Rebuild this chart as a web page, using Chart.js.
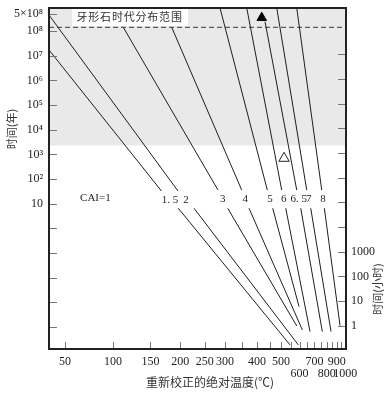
<!DOCTYPE html>
<html>
<head>
<meta charset="utf-8">
<script src="https://cdn.jsdelivr.net/npm/chart.js@4.4.0/dist/chart.umd.min.js"></script>
<style>
html, body { margin: 0; padding: 0; background: #fff; }
#wrap { width: 388px; height: 394px; }
</style>
</head>
<body>
<div id="wrap"><canvas id="caiChart"></canvas></div>
<script>
// CAI isolines: temperature in degC, time in years (gap where the label sits)
const caiLabels   = ['1. 5', '2', '3', '4', '5', '6', '6. 5', '7', '8'];
const upperStartT = [36, 36, 112.5, 184.5, 286.8, 364.4, 430.6, 480.4, 583.2];
const upperStartY = [1.72e7, 4.5e8, 1.43e8, 1.43e8, 8.7e8, 8.7e8, 2.4e8, 8.7e8, 8.7e8];
const upperEndT   = [167.3, 195.8, 281.7, 348.3, 439.9, 503.7, 583.2, 645.5, 757.5];
const upperEndY   = [33, 33, 36, 36, 36, 36, 36, 36, 36];
const lowerStartT = [196.3, 226.9, 307.2, 372.0, 462.6, 523.5, 607.1, 673.0, 779.7];
const lowerStartY = [6.6, 6.6, 6.6, 6.6, 6.6, 6.6, 6.6, 6.6, 6.6];
const lowerEndT   = [545.9, 592.6, 583.2, 617.1, 596.8, 668.0, 762.5, 841.3, 936.2];
const lowerEndY   = [1.9e-5, 1.9e-5, 1.12e-4, 7.7e-5, 6.8e-4, 6.6e-5, 6.6e-5, 6.6e-5, 1.15e-4];

// sample markers
const filledTriT = [417.7];
const filledTriY = [3.5e8];
const openTriT = [515];
const openTriY = [700];

// conodont age band and its dashed upper line
const ageBandBottom = 2300;
const ageLineY = 1.43e8;

// axis ranges and ticks
const tempMin = 36, tempMax = 1008;
const yearMin = 1.3e-5, yearMax = 8.67e8;
const hoursPerYear = 8766;
const tempTicks = [50, 100, 150, 200, 250, 300, 350, 400, 450, 500, 550, 600, 650, 700, 750, 800, 850, 900, 950, 1000];
const tempTickText = ['50', '100', '150', '200', '250', '300', '', '400', '', '500', '', ['', '600'], '', '700', '', ['', '800'], '', '900', '', ['', '1000']];
const yearTicks = [1e-4, 1e-3, 1e-2, 1e-1, 1, 10, 1e2, 1e3, 1e4, 1e5, 1e6, 1e7, 1e8, 5e8];
const yearTickText = ['', '', '', '', '', '10', '10²', '10³', '10⁴', '10⁵', '10⁶', '10⁷', '10⁸', '5×10⁸'];
const hourTicks = [1, 10, 1e2, 1e3, 1e4, 1e5, 1e6, 1e7, 1e8, 1e9, 1e10, 1e11];
const hourTickText = ['1', '10', '100', '1000', '', '', '', '', '', '', '', ''];

// x axis runs on reciprocal temperature
function toU(t) {
    return 1000 / (t + 298.7);
}

const serif = "'Liberation Serif', 'DejaVu Serif', serif";
const cjk = "'Noto Sans CJK SC', sans-serif";
const ink = '#1e1e1e';

// keep the plot box where the figure has it
function noPadding(s) {
    s.paddingTop = 0;
    s.paddingBottom = 0;
    s.paddingLeft = 0;
    s.paddingRight = 0;
}

const datasets = [];

// shaded age band (drawn underneath)
datasets.push({
    data: [{ x: toU(tempMin), y: ageBandBottom }, { x: toU(tempMax), y: ageBandBottom }],
    borderWidth: 0,
    pointRadius: 0,
    backgroundColor: '#e9e9e9',
    fill: 'end',
    order: 20
});

// dashed line
datasets.push({
    data: [{ x: toU(tempMin), y: ageLineY }, { x: toU(tempMax), y: ageLineY }],
    borderColor: '#3a3a3a',
    borderWidth: 1,
    borderDash: [5, 3],
    pointRadius: 0,
    fill: false,
    order: 15
});

caiLabels.forEach((lab, i) => {
    datasets.push({
        label: lab,
        data: [
            { x: toU(upperStartT[i]), y: upperStartY[i] },
            { x: toU(upperEndT[i]), y: upperEndY[i] },
            { x: toU((upperEndT[i] + lowerStartT[i]) / 2), y: null },
            { x: toU(lowerStartT[i]), y: lowerStartY[i] },
            { x: toU(lowerEndT[i]), y: lowerEndY[i] }
        ],
        borderColor: ink,
        borderWidth: 1,
        pointRadius: 0,
        spanGaps: false,
        fill: false,
        order: 5
    });
});

datasets.push({
    data: filledTriT.map((t, i) => ({ x: toU(t), y: filledTriY[i] })),
    showLine: false,
    pointStyle: 'triangle',
    pointRadius: 5.5,
    backgroundColor: '#000',
    borderColor: '#000',
    borderWidth: 1,
    order: 1
});
datasets.push({
    data: openTriT.map((t, i) => ({ x: toU(t), y: openTriY[i] })),
    showLine: false,
    pointStyle: 'triangle',
    pointRadius: 6,
    backgroundColor: '#fff',
    borderColor: '#222',
    borderWidth: 1,
    order: 1
});

// inward tick marks, frame, labels and titles
const frameAndTicks = {
    id: 'frameAndTicks',
    afterDatasetsDraw(chart) {
        const { ctx, chartArea: a, scales } = chart;
        ctx.save();
        ctx.strokeStyle = '#777';
        ctx.lineWidth = 1;
        ctx.beginPath();
        scales.y.ticks.forEach(t => {
            const p = Math.round(scales.y.getPixelForValue(t.value)) + 0.5;
            ctx.moveTo(a.left, p);
            ctx.lineTo(a.left + 8, p);
        });
        scales.y2.ticks.forEach(t => {
            const p = Math.round(scales.y2.getPixelForValue(t.value)) + 0.5;
            ctx.moveTo(a.right, p);
            ctx.lineTo(a.right - 8, p);
        });
        scales.x.ticks.forEach(t => {
            const p = Math.round(scales.x.getPixelForValue(t.value)) + 0.5;
            ctx.moveTo(p, a.bottom);
            ctx.lineTo(p, a.bottom - 7);
        });
        ctx.stroke();

        // white box with the band title
        ctx.fillStyle = '#fff';
        ctx.fillRect(a.left + 23, a.top, 116, 18);
        ctx.fillStyle = '#333';
        ctx.font = '11px ' + cjk;
        ctx.textBaseline = 'middle';
        ctx.textAlign = 'center';
        const title = '牙形石时代分布范围';
        for (let i = 0; i < title.length; i++) {
            ctx.fillText(title[i], a.left + 33 + i * 11.8, a.top + 9);
        }

        // line labels in the gaps
        ctx.font = '11px ' + serif;
        ctx.fillStyle = ink;
        caiLabels.forEach((lab, i) => {
            const x = (scales.x.getPixelForValue(toU(upperEndT[i])) + scales.x.getPixelForValue(toU(lowerStartT[i]))) / 2;
            const y = (scales.y.getPixelForValue(upperEndY[i]) + scales.y.getPixelForValue(lowerStartY[i])) / 2;
            ctx.fillText(lab, x, y);
        });
        ctx.fillText('CAI=1', scales.x.getPixelForValue(toU(80)), scales.y.getPixelForValue(17));

        ctx.strokeStyle = '#222';
        ctx.lineWidth = 2;
        ctx.strokeRect(a.left, a.top, a.right - a.left, a.bottom - a.top);

        // axis titles
        ctx.fillStyle = '#333';
        ctx.font = '11px ' + cjk;
        ctx.save();
        ctx.translate(12, 129);
        ctx.rotate(-Math.PI / 2);
        ctx.fillText('时间(年)', 0, 0);
        ctx.restore();
        ctx.save();
        ctx.translate(378, 289);
        ctx.rotate(-Math.PI / 2);
        ctx.fillText('时间(小时)', 0, 0);
        ctx.restore();
        ctx.font = '12px ' + cjk;
        ctx.fillText('重新校正的绝对温度(℃)', 210, 382);
        ctx.restore();
    }
};

const ctx1 = document.getElementById('caiChart').getContext('2d');

const config = {
    type: 'line',
    data: { datasets: datasets },
    options: {
        responsive: true,
        maintainAspectRatio: false,
        animation: false,
        layout: { padding: { top: 8, left: 0, right: 0, bottom: 0 } },
        plugins: {
            legend: { display: false },
            tooltip: { enabled: false }
        },
        scales: {
            x: {
                type: 'linear',
                reverse: true,
                min: toU(tempMax),
                max: toU(tempMin),
                afterBuildTicks: s => { s.ticks = tempTicks.map(t => ({ value: toU(t) })); },
                afterFit: s => { s.height = 45; noPadding(s); },
                ticks: {
                    autoSkip: false,
                    maxRotation: 0,
                    padding: 7,
                    color: '#222',
                    font: { family: serif, size: 12, lineHeight: 1.0 },
                    callback: (v, i) => tempTickText[i]
                },
                grid: { display: false, drawTicks: false },
                border: { display: false }
            },
            y: {
                type: 'logarithmic',
                position: 'left',
                min: yearMin,
                max: yearMax,
                afterBuildTicks: s => { s.ticks = yearTicks.map(v => ({ value: v })); },
                afterFit: s => { s.width = 49; noPadding(s); },
                ticks: {
                    autoSkip: false,
                    padding: 6,
                    color: '#222',
                    font: { family: serif, size: 12 },
                    callback: (v, i) => yearTickText[i]
                },
                grid: { display: false, drawTicks: false },
                border: { display: false }
            },
            y2: {
                type: 'logarithmic',
                position: 'right',
                min: yearMin * hoursPerYear,
                max: yearMax * hoursPerYear,
                afterBuildTicks: s => { s.ticks = hourTicks.map(v => ({ value: v })); },
                afterFit: s => { s.width = 42; noPadding(s); },
                ticks: {
                    autoSkip: false,
                    padding: 5,
                    color: '#222',
                    font: { family: serif, size: 12 },
                    callback: (v, i) => hourTickText[i]
                },
                grid: { display: false, drawTicks: false },
                border: { display: false }
            }
        }
    },
    plugins: [frameAndTicks]
};

const caiChart = new Chart(ctx1, config);
</script>
</body>
</html>
